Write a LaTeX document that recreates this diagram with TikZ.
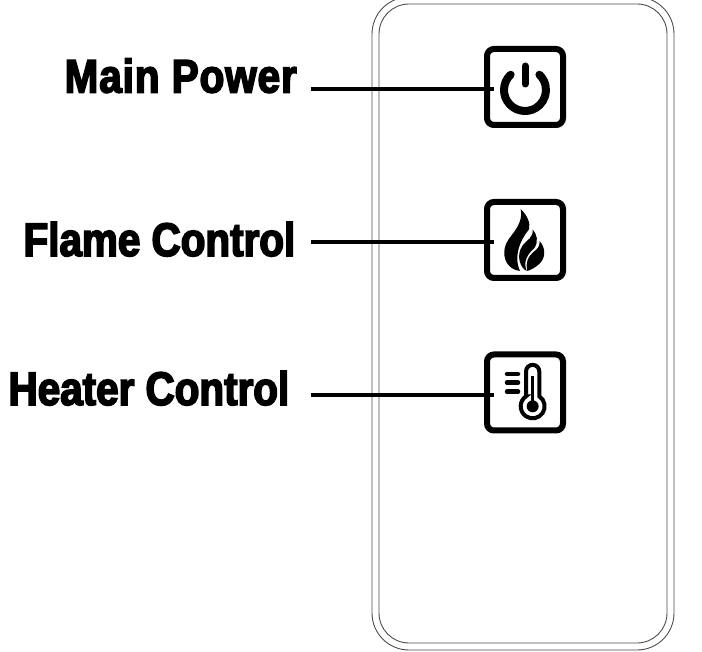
\documentclass[tikz,border=0pt]{standalone}
\usepackage{fontspec}
\newfontfamily\labfont[FakeStretch=0.86,FakeBold=3.5]{Liberation Sans Bold}
\newfontfamily\labwide[FakeStretch=0.86,FakeBold=3.5,LetterSpace=2]{Liberation Sans Bold}
\tikzset{
  shell/.style={draw=black!70,line width=0.9pt,rounded corners=#1},
  btn/.style={draw=black,line width=6pt,rounded corners=7pt,minimum width=76pt,minimum height=76pt,inner sep=0pt,outer sep=0pt,fill=white},
  lab/.style={anchor=base east,font=\labfont\fontsize{47}{47}\selectfont,inner sep=0pt,text=black},
  lead/.style={draw=black,line width=4pt},
  flameicon/.style={shift={(498,204.6)},x=0.3333pt,y=-0.3647pt},
  thermicon/.style={shift={(498,358)},x=0.3333pt,y=-0.3333pt}
}
\begin{document}
\begin{tikzpicture}[x=1pt,y=-1pt]
\useasboundingbox (0,0) rectangle (702,652);
\path[shell=37pt] (372,-3) rectangle (674,650);
\path[shell=30pt] (379,4) rectangle (667,643);
\node[btn] (b1) at (525,87) {};
\node[btn] (b2) at (525,240) {};
\node[btn] (b3) at (525,392.5) {};
\node[lab,font=\labwide\fontsize{47}{47}\selectfont] (l1) at (297,92.5) {Main Power};
\node[lab] (l2) at (295.5,256) {Flame Control};
\node[lab] (l3) at (289.5,405) {Heater Control};
\coordinate (s1) at (311,89);
\coordinate (s2) at (311,242.5);
\coordinate (s3) at (311,395);
\draw[lead] (s1) -- ([xshift=7pt]s1 -| b1.west);
\draw[lead] (s2) -- ([xshift=7pt]s2 -| b2.west);
\draw[lead] (s3) -- ([xshift=7pt]s3 -| b3.west);
% power icon
\draw[line width=8pt,line cap=round] (525,90) ++(226.7:21) arc[start angle=226.7,end angle=-46.7,radius=21];
\draw[line width=7pt,line cap=round] (525,66) -- (525,84);
% flame icon
\begin{scope}[flameicon]
\fill (68,12) .. controls (88,30) and (98,50) .. (93,68)
  .. controls (68,95) and (45,140) .. (66,182)
  .. controls (30,178) and (14,150) .. (20,120)
  .. controls (26,85) and (78,65) .. (68,12) -- cycle;
\fill (104,68) .. controls (117,82) and (122,100) .. (110,118)
  .. controls (90,135) and (74,155) .. (86,182)
  .. controls (68,175) and (52,140) .. (74,112)
  .. controls (88,95) and (106,92) .. (104,68) -- cycle;
\fill (125,100) .. controls (142,118) and (144,142) .. (127,160)
  .. controls (114,172) and (100,178) .. (88,182)
  .. controls (82,158) and (90,143) .. (105,131)
  .. controls (118,122) and (126,115) .. (125,100) -- cycle;
\end{scope}
% thermometer icon
\begin{scope}[thermicon]
\draw[line width=4.5pt,line cap=round] (27,48) -- (60,48) (27,74) -- (60,74) (27,101) -- (60,101);
\draw[line width=4pt] (84,115) -- (84,40.5) arc[start angle=180,end angle=360,radius=20] -- (124,115)
  arc[start angle=-56.3,end angle=236.3,radius=36] -- cycle;
\draw[line width=3pt] (104,55) -- (104,140);
\fill (104,145) circle[radius=18];
\end{scope}
\end{tikzpicture}
\end{document}
